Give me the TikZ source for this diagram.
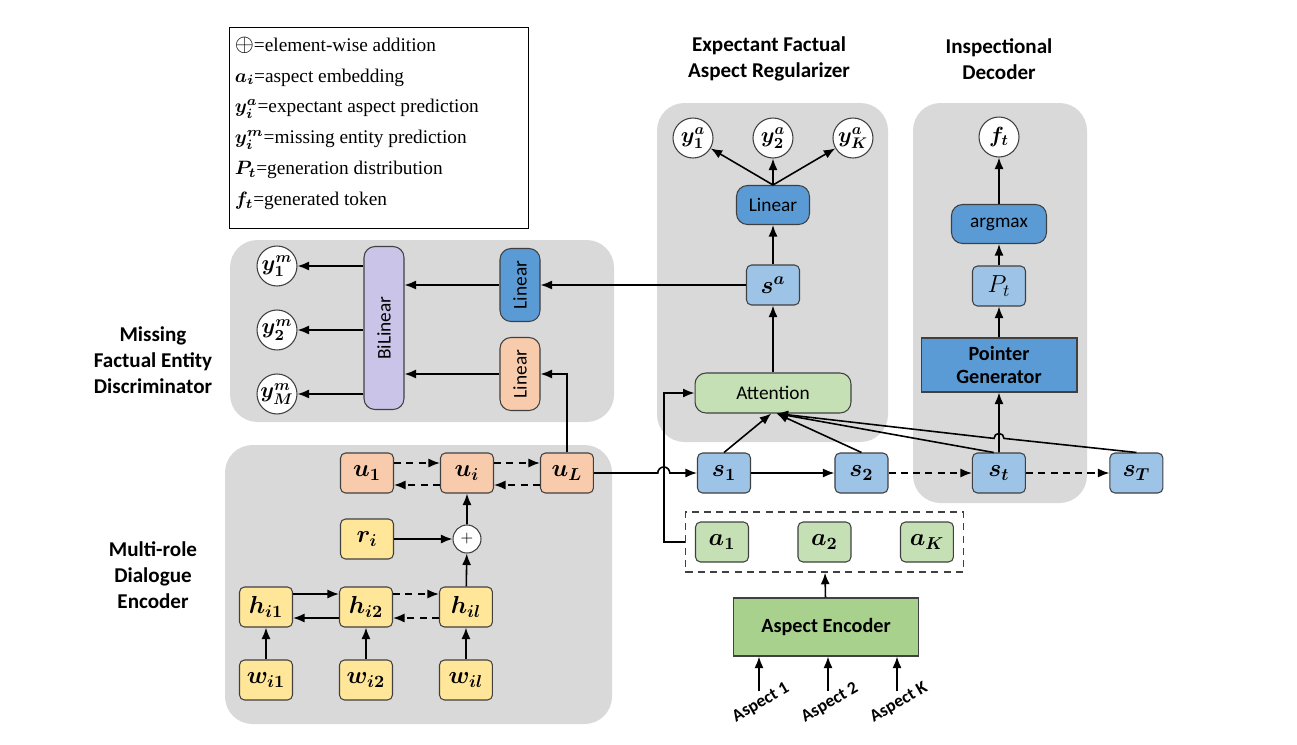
\RequirePackage{fix-cm}
\documentclass[tikz,border=0pt]{standalone}
\usepackage{amsmath,amssymb}
\usepackage{fontspec}
\setmainfont{Liberation Serif}
\newfontfamily\calibri{Carlito}
\usepackage{tikz}
\usetikzlibrary{arrows.meta,positioning,fit,calc}

\definecolor{panelgray}{HTML}{D9D9D9}
\definecolor{edgegray}{HTML}{404040}
\definecolor{yellowbox}{HTML}{FFE699}
\definecolor{peach}{HTML}{F8CBAD}
\definecolor{lightblue}{HTML}{9DC3E6}
\definecolor{midblue}{HTML}{5B9BD5}
\definecolor{lightgreen}{HTML}{C5E0B4}
\definecolor{encgreen}{HTML}{A9D18E}
\definecolor{lavender}{HTML}{CBC4E9}

\begin{document}
\begin{tikzpicture}[x=0.02cm, y=-0.02cm, node distance=2cm, line width=0.9pt,
    >={Latex[length=2.3mm,width=1.8mm]},
    panel/.style={fill=panelgray, rounded corners=0.55cm},
    title/.style={font=\calibri\bfseries\fontsize{12}{14.7}\selectfont, align=center},
    vec node/.style={draw=edgegray, line width=0.6pt, rounded corners=0.1cm,
        minimum width=1.06cm, minimum height=0.8cm, inner sep=1pt, font=\fontsize{14}{16}\selectfont},
    op node/.style={draw=edgegray, line width=0.6pt, rounded corners=0.22cm,
        inner sep=1pt, font=\calibri\fontsize{11}{13}\selectfont},
    block node/.style={draw=edgegray, line width=0.6pt, align=center,
        font=\calibri\bfseries\fontsize{11.5}{13.5}\selectfont},
    out node/.style={circle, draw=edgegray, line width=0.6pt, fill=white,
        minimum size=0.8cm, inner sep=0pt, font=\fontsize{12.5}{14}\selectfont},
    add node/.style={circle, draw=edgegray, line width=0.6pt, fill=white,
        minimum size=0.56cm, inner sep=0pt, font=\small},
    dash line/.style={dash pattern=on 4pt off 3pt},
    aspect label/.style={rotate=30, font=\calibri\bfseries\fontsize{10}{12}\selectfont}]

    \useasboundingbox (0,0) rectangle (1297,744);

    % panels
    \fill[panel] (230,240) rectangle (614,422);
    \fill[panel] (225,445) rectangle (612,724);
    \fill[panel] (657,103) rectangle (888,442);
    \fill[panel] (913,103) rectangle (1087,503);

    % titles
    \node[title] (t exp) at (769,59) {Expectant Factual\\Aspect Regularizer};
    \node[title] (t insp) at (999,59) {Inspectional\\Decoder};
    \node[title] (t miss) at (153,360) {Missing\\Factual Entity\\Discriminator};
    \node[title] (t enc) at (153,575) {Multi-role\\Dialogue\\Encoder};

    % legend
    \node[draw=black, line width=0.6pt, minimum width=5.98cm, minimum height=4.02cm,
        anchor=north west] (legend) at (229,27) {};
    \node[anchor=north west, align=left, inner sep=0pt, font=\fontsize{11}{17.6}\selectfont]
        (legend text) at ([shift={(0.1cm,-0.18cm)}]legend.north west)
        {{\fontsize{14}{14}\selectfont$\oplus$}=element-wise addition\\
         $\boldsymbol{a_i}$=aspect embedding\\
         $\boldsymbol{y^a_i}$=expectant aspect prediction\\
         $\boldsymbol{y^m_i}$=missing entity prediction\\
         $\boldsymbol{P_t}$=generation distribution\\
         $\boldsymbol{f_t}$=generated token};

    % expectant factual aspect regularizer
    \node[out node] (ya1) at (693,138) {$\boldsymbol{y^a_1}$};
    \node[out node, right of=ya1, node distance=1.6cm] (ya2) {$\boldsymbol{y^a_2}$};
    \node[out node, right of=ya2, node distance=1.6cm] (yaK) {$\boldsymbol{y^a_K}$};
    \node[op node, fill=midblue, minimum width=1.46cm, minimum height=0.78cm] (lin a) at (773,205) {Linear};
    \node[vec node, fill=lightblue] (sa) at (773,285) {$\boldsymbol{s^a}$};
    \node[op node, fill=lightgreen, minimum width=3.12cm, minimum height=0.8cm] (att) at (773,393) {Attention};

    % inspectional decoder
    \node[out node] (ft) at (999,137) {$\boldsymbol{f_t}$};
    \node[op node, fill=midblue, minimum width=1.9cm, minimum height=0.78cm] (argmax) at (999,224) {argmax};
    \node[vec node, fill=lightblue] (pt) at (999,286) {$P_t$};
    \node[block node, fill=midblue, minimum width=3.12cm, minimum height=1.08cm] (pg) at (999,365) {Pointer\\Generator};

    \node[vec node, fill=lightblue] (s1) at (724,473) {$\boldsymbol{s_1}$};
    \node[vec node, fill=lightblue, right of=s1, node distance=2.75cm] (s2) {$\boldsymbol{s_2}$};
    \node[vec node, fill=lightblue, right of=s2, node distance=2.75cm] (st) {$\boldsymbol{s_t}$};
    \node[vec node, fill=lightblue, right of=st, node distance=2.75cm] (sT) {$\boldsymbol{s_T}$};

    % aspects
    \node[vec node, fill=lightgreen] (a1) at (722,542) {$\boldsymbol{a_1}$};
    \node[vec node, fill=lightgreen, right of=a1, node distance=2.05cm] (a2) {$\boldsymbol{a_2}$};
    \node[vec node, fill=lightgreen, right of=a2, node distance=2.05cm] (aK) {$\boldsymbol{a_K}$};
    \node[draw=edgegray, line width=0.8pt, dash line, fit=(a1)(aK), inner sep=0.19cm] (aset) {};
    \node[block node, fill=encgreen, minimum width=3.7cm, minimum height=1.16cm] (aenc) at (826,627) {Aspect Encoder};
    \foreach \x/\k [count=\i] in {759/1, 828/2, 897/K} {
        \coordinate (in\i) at (\x,691);
        \node[aspect label] (asp\i) at (\x+2,703) {Aspect \k};
        \draw[->] (in\i) -- (in\i |- aenc.south);
    }

    % missing factual entity discriminator
    \node[out node] (ym1) at (277,266) {$\boldsymbol{y^m_1}$};
    \node[out node, below of=ym1, node distance=1.28cm] (ym2) {$\boldsymbol{y^m_2}$};
    \node[out node, below of=ym2, node distance=1.28cm] (ymM) {$\boldsymbol{y^m_M}$};
    \node[op node, fill=lavender, rotate=90, minimum width=3.26cm, minimum height=0.8cm] (bil) at (384,328) {BiLinear};
    \node[op node, fill=midblue, rotate=90, minimum width=1.46cm, minimum height=0.8cm] (lin m) at (520,285) {Linear};
    \node[op node, fill=peach, rotate=90, minimum width=1.46cm, minimum height=0.8cm] (lin u) at (520,374) {Linear};

    % multi-role dialogue encoder
    \node[vec node, fill=peach] (u1) at (367,473) {$\boldsymbol{u_1}$};
    \node[vec node, fill=peach, right of=u1] (ui) {$\boldsymbol{u_i}$};
    \node[vec node, fill=peach, right of=ui] (uL) {$\boldsymbol{u_L}$};
    \node[vec node, fill=yellowbox] (ri) at (367,539) {$\boldsymbol{r_i}$};
    \node[add node] (plus) at (467,539) {$+$};
    \node[vec node, fill=yellowbox] (h1) at (266,607) {$\boldsymbol{h_{i1}}$};
    \node[vec node, fill=yellowbox, right of=h1] (h2) {$\boldsymbol{h_{i2}}$};
    \node[vec node, fill=yellowbox, right of=h2] (hl) {$\boldsymbol{h_{il}}$};
    \node[vec node, fill=yellowbox, below of=h1, node distance=1.46cm] (w1) {$\boldsymbol{w_{i1}}$};
    \node[vec node, fill=yellowbox, below of=h2, node distance=1.46cm] (w2) {$\boldsymbol{w_{i2}}$};
    \node[vec node, fill=yellowbox, below of=hl, node distance=1.46cm] (wl) {$\boldsymbol{w_{il}}$};

    \foreach \a/\b in {u1/ui, ui/uL} {
        \draw[->, dash line] ([yshift=0.2cm]\a.east) -- ([yshift=0.2cm]\b.west);
        \draw[->, dash line] ([yshift=-0.24cm]\b.west) -- ([yshift=-0.24cm]\a.east);
    }
    \draw[->] ([yshift=0.26cm]h1.east) -- ([yshift=0.26cm]h2.west);
    \draw[->] ([yshift=-0.22cm]h2.west) -- ([yshift=-0.22cm]h1.east);
    \draw[->, dash line] ([yshift=0.26cm]h2.east) -- ([yshift=0.26cm]hl.west);
    \draw[->, dash line] ([yshift=-0.22cm]hl.west) -- ([yshift=-0.22cm]h2.east);
    \foreach \w/\h in {w1/h1, w2/h2, wl/hl}
        \draw[->] (\w) -- (\h);
    \draw[->] (hl) -- (plus);
    \draw[->] (ri) -- (plus);
    \draw[->] (plus) -- (ui);

    % discriminator links
    \foreach \y in {ym1, ym2, ymM}
        \draw[->] (bil.north |- \y) -- (\y);
    \draw[->] (lin m.north) -- (lin m.north -| bil.south);
    \draw[->] (lin u.north) -- (lin u.north -| bil.south);
    \draw[->] (sa.west) -- (lin m.south);
    \draw[->] (uL.north) |- (lin u.south);

    % decoder links
    \coordinate (bend) at ([xshift=-0.42cm]aset.west);
    \draw[->] (uL.east) -- ($(bend |- s1)+(-6,0)$) arc[start angle=180, end angle=0, radius=0.12cm] -- (s1.west);
    \draw[->] (aset.west) -- (bend) |- (att.west);
    \draw[->] (aenc) -- (aset);
    \draw[->] (s1) -- (s2);
    \draw[->, dash line] (s2) -- (st);
    \draw[->, dash line] (st) -- (sT);
    \draw[->] (s1.north) -- ([xshift=-1pt]att.south);
    \draw[->] (s2.north) -- ([xshift=2pt]att.south);
    \draw[->] ([xshift=-3pt]st.north) -- ([xshift=2pt]att.south);
    \draw[->] (sT.north) -- (1004,438.4) arc[start angle=0, end angle=180, radius=0.1cm] -- ([xshift=2pt]att.south);
    \draw[->] (st) -- (pg);
    \draw[->] (pg) -- (pt);
    \draw[->] (pt) -- (argmax);
    \draw[->] (argmax) -- (ft);
    \draw[->] (att) -- (sa);
    \draw[->] (sa) -- (lin a);
    \foreach \y in {ya1, ya2, yaK}
        \draw[->] (lin a.north) -- (\y);
\end{tikzpicture}
\end{document}
